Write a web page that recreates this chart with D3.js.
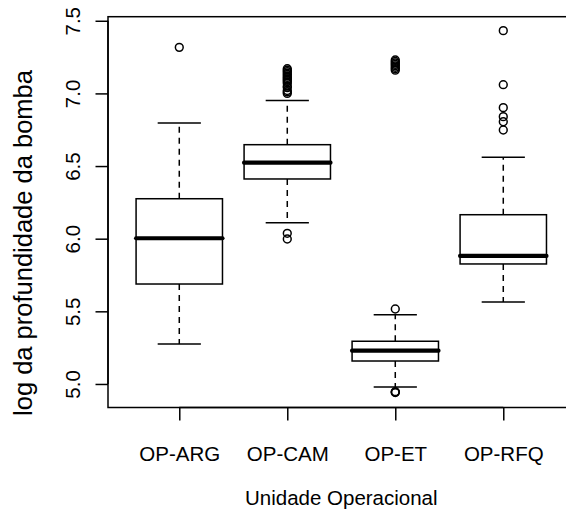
<!DOCTYPE html>
<html>
<head>
<meta charset="utf-8">
<script src="https://cdn.jsdelivr.net/npm/d3@7"></script>
<style>
  html, body { margin: 0; padding: 0; background: #fff; }
  svg { display: block; }
  text { font-family: "Liberation Sans", Arial, Helvetica, sans-serif; fill: #000; }
</style>
</head>
<body>
<script>
// Box-plot statistics of log pump depth per operational unit
const categories   = ["OP-ARG", "OP-CAM", "OP-ET", "OP-RFQ"];
const lowWhisker   = [5.275, 6.110, 4.979, 5.564];
const lowerQuart   = [5.688, 6.411, 5.158, 5.826];
const medians      = [6.003, 6.523, 5.229, 5.881];
const upperQuart   = [6.275, 6.647, 5.294, 6.165];
const highWhisker  = [6.796, 6.952, 5.477, 6.560];
const outliers = [
  [7.317],
  [7.00, 7.01, 7.02, 7.04, 7.05, 7.07, 7.08, 7.09, 7.10, 7.11, 7.12, 7.13, 7.14, 7.15, 7.16, 7.17, 6.037, 5.998],
  [7.16, 7.17, 7.18, 7.19, 7.20, 7.21, 7.22, 7.23, 5.516, 4.947, 4.944, 4.941],
  [7.432, 7.060, 6.902, 6.840, 6.805, 6.748]
];
const yTicks = [5.0, 5.5, 6.0, 6.5, 7.0, 7.5];
const xTitle = "Unidade Operacional";
const yTitle = "log da profundidade da bomba";

const W = 566, H = 517;
const plot = { left: 108, top: 16.7, right: 576, bottom: 407.5 };

const svg = d3.select("body").append("svg")
  .attr("width", W).attr("height", H);

const x = d3.scaleLinear().domain([0.34, 4.66]).range([plot.left, plot.left + 4.32 * 108]);
const y = d3.scaleLinear().domain([4.838, 7.528]).range([plot.bottom, plot.top]);

const lw = 1.5;
const boxHalf = 0.4;    // box width 0.8 in category units
const stapleHalf = 0.2; // whisker caps half the box width

const rows = categories.map((c, i) => ({
  cat: c, pos: i + 1,
  lo: lowWhisker[i], q1: lowerQuart[i], med: medians[i], q3: upperQuart[i], hi: highWhisker[i],
  out: outliers[i]
}));

const g = svg.append("g");

// dashed whiskers
g.selectAll(".wl").data(rows).join("line")
  .attr("x1", d => x(d.pos)).attr("x2", d => x(d.pos))
  .attr("y1", d => y(d.q3)).attr("y2", d => y(d.hi))
  .attr("stroke", "#000").attr("stroke-width", lw).attr("stroke-dasharray", "6,5");
g.selectAll(".wu").data(rows).join("line")
  .attr("x1", d => x(d.pos)).attr("x2", d => x(d.pos))
  .attr("y1", d => y(d.q1)).attr("y2", d => y(d.lo))
  .attr("stroke", "#000").attr("stroke-width", lw).attr("stroke-dasharray", "6,5");

// staples
["hi", "lo"].forEach(k => {
  g.selectAll(".st" + k).data(rows).join("line")
    .attr("x1", d => x(d.pos - stapleHalf)).attr("x2", d => x(d.pos + stapleHalf))
    .attr("y1", d => y(d[k])).attr("y2", d => y(d[k]))
    .attr("stroke", "#000").attr("stroke-width", lw);
});

// boxes
g.selectAll(".box").data(rows).join("rect")
  .attr("x", d => x(d.pos - boxHalf)).attr("width", d => x(d.pos + boxHalf) - x(d.pos - boxHalf))
  .attr("y", d => y(d.q3)).attr("height", d => y(d.q1) - y(d.q3))
  .attr("fill", "none").attr("stroke", "#000").attr("stroke-width", lw);

// medians
g.selectAll(".med").data(rows).join("line")
  .attr("x1", d => x(d.pos - boxHalf)).attr("x2", d => x(d.pos + boxHalf))
  .attr("y1", d => y(d.med)).attr("y2", d => y(d.med))
  .attr("stroke", "#000").attr("stroke-width", 4.2).attr("stroke-linecap", "round");

// outliers
const pts = rows.flatMap(d => d.out.map(v => ({ pos: d.pos, v })));
g.selectAll(".out").data(pts).join("circle")
  .attr("cx", d => x(d.pos)).attr("cy", d => y(d.v)).attr("r", 3.9)
  .attr("fill", "none").attr("stroke", "#000").attr("stroke-width", 1.5);

// frame
svg.append("rect")
  .attr("x", plot.left).attr("y", plot.top)
  .attr("width", plot.right - plot.left).attr("height", plot.bottom - plot.top)
  .attr("fill", "none").attr("stroke", "#000").attr("stroke-width", lw);

// y axis
const yAxis = svg.append("g").attr("transform", `translate(${plot.left},0)`)
  .call(d3.axisLeft(y).tickValues(yTicks).tickSize(12.5).tickSizeOuter(0).tickFormat(d3.format(".1f")));
yAxis.select(".domain").attr("d", `M0,${y(yTicks[0])}V${y(yTicks[yTicks.length - 1])}`)
  .attr("stroke-width", lw);
yAxis.selectAll(".tick line").attr("stroke-width", lw);
yAxis.selectAll(".tick text")
  .attr("x", null).attr("dy", null)
  .attr("transform", "translate(-28,0) rotate(-90)")
  .attr("text-anchor", "middle")
  .style("font-size", "20.5px");

// x axis
const xAxis = svg.append("g").attr("transform", `translate(0,${plot.bottom})`)
  .call(d3.axisBottom(x).tickValues(rows.map(d => d.pos)).tickSize(13).tickSizeOuter(0)
    .tickFormat((d, i) => categories[i]));
xAxis.select(".domain").attr("d", `M${x(1)},0H${x(4)}`).attr("stroke-width", lw);
xAxis.selectAll(".tick line").attr("stroke-width", lw);
xAxis.selectAll(".tick text")
  .attr("y", 53).attr("dy", null)
  .style("font-size", "20.5px");

// titles
svg.append("text")
  .attr("x", x(2.5)).attr("y", 505)
  .attr("text-anchor", "middle").style("font-size", "20.5px")
  .text(xTitle);
svg.append("text")
  .attr("transform", "translate(32,243) rotate(-90)")
  .attr("text-anchor", "middle").style("font-size", "25.5px")
  .text(yTitle);
</script>
</body>
</html>
